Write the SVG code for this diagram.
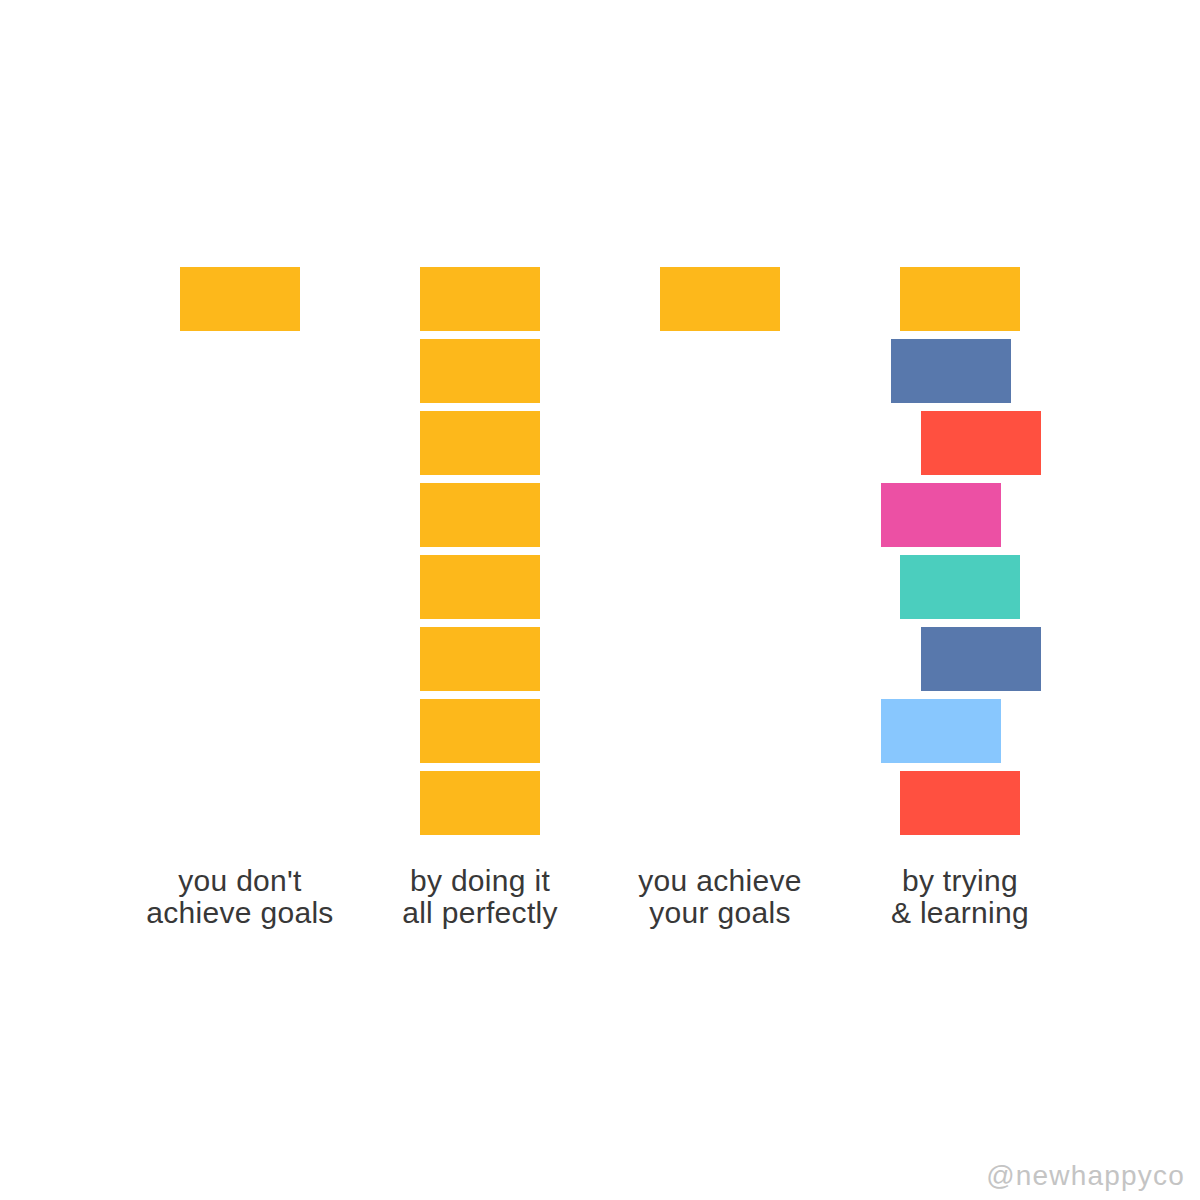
<svg xmlns="http://www.w3.org/2000/svg" width="1200" height="1200" viewBox="0 0 1200 1200">
<style>
.lbl{font-family:"Liberation Sans",Arial,sans-serif;font-size:30px;fill:#383838;text-anchor:middle;letter-spacing:0.3px}
.wm{font-family:"Liberation Sans",Arial,sans-serif;font-size:28px;fill:#c4c4c4;text-anchor:end;letter-spacing:1.2px}
.y{fill:#FDB81B}.b{fill:#5878AC}.r{fill:#FF5040}.p{fill:#EC50A4}.t{fill:#4BCEBE}.lb{fill:#88C7FE}
</style>
<rect width="1200" height="1200" fill="#fff"/>
<g id="col1">
<rect class="y" x="180" y="267" width="120" height="64"/>
<text class="lbl" x="240" y="891">you don't</text>
<text class="lbl" x="240" y="923">achieve goals</text>
</g>
<g id="col2">
<rect class="y" x="420" y="267" width="120" height="64"/>
<rect class="y" x="420" y="339" width="120" height="64"/>
<rect class="y" x="420" y="411" width="120" height="64"/>
<rect class="y" x="420" y="483" width="120" height="64"/>
<rect class="y" x="420" y="555" width="120" height="64"/>
<rect class="y" x="420" y="627" width="120" height="64"/>
<rect class="y" x="420" y="699" width="120" height="64"/>
<rect class="y" x="420" y="771" width="120" height="64"/>
<text class="lbl" x="480" y="891">by doing it</text>
<text class="lbl" x="480" y="923">all perfectly</text>
</g>
<g id="col3">
<rect class="y" x="660" y="267" width="120" height="64"/>
<text class="lbl" x="720" y="891">you achieve</text>
<text class="lbl" x="720" y="923">your goals</text>
</g>
<g id="col4">
<rect class="y" x="900" y="267" width="120" height="64"/>
<rect class="b" x="891" y="339" width="120" height="64"/>
<rect class="r" x="921" y="411" width="120" height="64"/>
<rect class="p" x="881" y="483" width="120" height="64"/>
<rect class="t" x="900" y="555" width="120" height="64"/>
<rect class="b" x="921" y="627" width="120" height="64"/>
<rect class="lb" x="881" y="699" width="120" height="64"/>
<rect class="r" x="900" y="771" width="120" height="64"/>
<text class="lbl" x="960" y="891">by trying</text>
<text class="lbl" x="960" y="923">&amp; learning</text>
</g>
<g id="connectors"/>
<text class="wm" x="1185" y="1185">@newhappyco</text>
</svg>
